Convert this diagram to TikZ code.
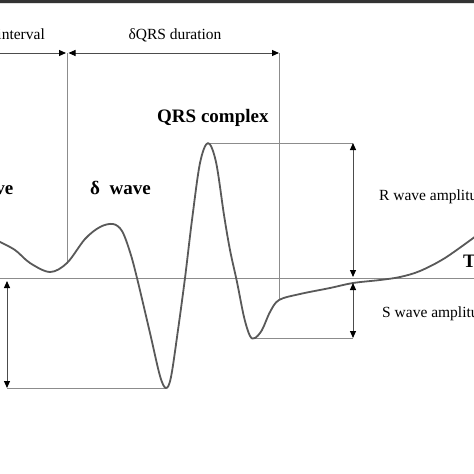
\documentclass[tikz,border=0pt]{standalone}
\usepackage{fontspec}
\setmainfont{Liberation Serif}
\usetikzlibrary{arrows.meta}
\begin{document}
\begin{tikzpicture}[x=1pt,y=-1pt,
  guide/.style={draw=black!45,line width=0.9pt},
  dimarrow/.style={draw=black!70,line width=1pt,{Triangle[black,length=7pt,width=6pt]}-{Triangle[black,length=7pt,width=6pt]}},
  onearrow/.style={draw=black!70,line width=1pt,-{Triangle[black,length=7pt,width=6pt]}},
  wavecurve/.style={draw=black!65,line width=1.8pt,line join=round},
  lbl/.style={inner sep=0pt,font=\fontsize{15.5}{18}\selectfont},
  blbl/.style={inner sep=0pt,font=\fontsize{19}{22}\selectfont\bfseries}]
\useasboundingbox (0,0) rectangle (474,474);
\clip (0,0) rectangle (474,474);
\fill[white] (0,0) rectangle (474,474);
\fill[black!80] (0,0) rectangle (474,2.5);
\fill[black!12] (0,2.5) rectangle (474,3.5);

% key coordinates
\coordinate (topL) at (-12,53);
\coordinate (top67) at (67,53);
\coordinate (top279) at (279,53);
\coordinate (cur67) at (67,263);
\coordinate (cur279) at (279,300);
\coordinate (blL) at (0,278);
\coordinate (blR) at (474,278);
\coordinate (rpeak) at (208,143);
\coordinate (rtop) at (353,143);
\coordinate (rbot) at (353,277);
\coordinate (strough) at (254,338);
\coordinate (stop) at (353,283);
\coordinate (sbot) at (353,338);
\coordinate (qtrough) at (166,388);
\coordinate (qtop) at (7,281);
\coordinate (qbot) at (7,388);

% guide lines
\draw[guide] (blL) -- (blR);
\draw[guide] (top67) -- (cur67);
\draw[guide] (top279) -- (cur279);
\draw[guide] (rpeak) -- (rtop);
\draw[guide] (strough) -- (sbot);
\draw[guide] (qtrough) -- (qbot);

% waveform
\draw[wavecurve] plot[smooth,tension=0.55] coordinates {
 (-2,241) (15,250) (30,263) (50,272) (67,263) (85,239) (100,227) (113,224)
 (122,231) (130,252) (137,278) (150,333) (160,376) (166,388) (171,377)
 (178,330) (185,278) (192,220) (200,163) (208,143) (216,162) (224,215)
 (230,250) (237,282) (244,317) (250,336) (255,338) (262,330) (270,312)
 (279,300) (300,294) (330,288) (353,283) (380,280) (400,277) (420,271)
 (445,258) (476,236)};

% dimension arrows
\draw[onearrow] (topL) -- ([xshift=-1pt]top67);
\draw[dimarrow] ([xshift=1.5pt]top67) -- (top279);
\draw[dimarrow] (rtop) -- (rbot);
\draw[dimarrow] (stop) -- (sbot);
\draw[dimarrow] (qtop) -- (qbot);

% labels
\node[lbl,anchor=base east] (tint) at (45,39) {interval};
\node[lbl,anchor=base] (tqrsd) at (175,39) {δQRS duration};
\node[blbl,anchor=base west] (tqrs) at (157,122) {QRS complex};
\node[blbl,anchor=base west] (tdelta) at (90,194) {δ\ \ wave};
\node[blbl,anchor=base east] (tp) at (13.5,194) {P wave};
\node[lbl,anchor=base west] (tr) at (379,200) {R wave amplitude};
\node[lbl,anchor=base west] (ts) at (382,317) {S wave amplitude};
\node[blbl,anchor=base west] (tt) at (463,267) {T};
\end{tikzpicture}
\end{document}
